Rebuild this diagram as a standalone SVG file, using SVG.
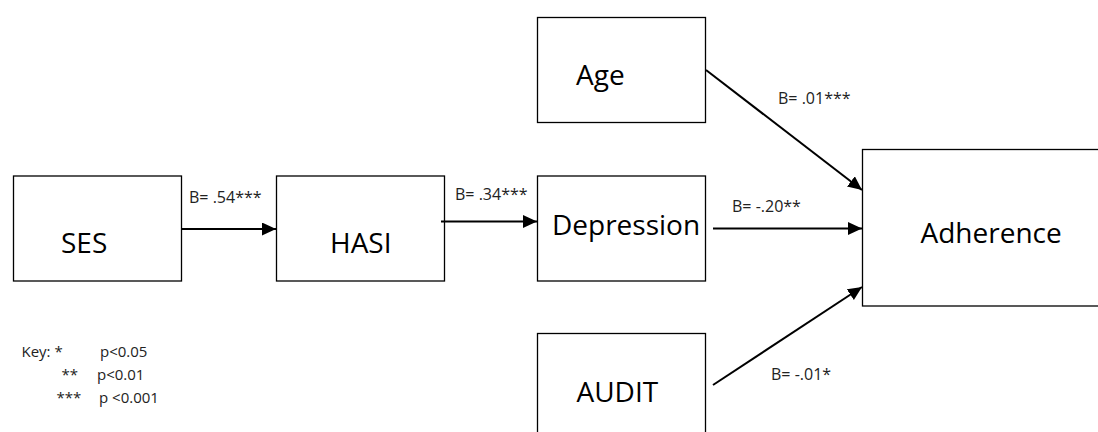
<svg xmlns="http://www.w3.org/2000/svg" width="1098" height="432" viewBox="0 0 1098 432">
  <style>
    .box { fill: #ffffff; stroke: #000000; stroke-width: 1.3; }
    .lbl { font-family: "Open Sans", "Liberation Sans", sans-serif; font-size: 28px; fill: #000000; }
    .coef { font-family: "Open Sans", "Liberation Sans", sans-serif; font-size: 16px; fill: #222222; }
    .key { font-family: "Open Sans", "Liberation Sans", sans-serif; font-size: 15px; fill: #222222; }
    .edge { stroke: #000000; stroke-width: 2; fill: none; marker-end: url(#arrow); }
  </style>
  <defs>
    <marker id="arrow" markerUnits="userSpaceOnUse" markerWidth="15" markerHeight="14" refX="14" refY="6.5" orient="auto">
      <path d="M0,0 L14,6.5 L0,13 Z" fill="#000000"/>
    </marker>
  </defs>
  <rect width="1098" height="432" fill="#ffffff"/>

  <g id="ses">
    <rect class="box" x="13.5" y="176" width="168" height="105"/>
    <text class="lbl" x="61" y="253">SES</text>
  </g>
  <g id="hasi">
    <rect class="box" x="276.5" y="176" width="168" height="105"/>
    <text class="lbl" x="330" y="253">HASI</text>
  </g>
  <g id="age">
    <rect class="box" x="537.5" y="17.5" width="168" height="105"/>
    <text class="lbl" x="576" y="85">Age</text>
  </g>
  <g id="depression">
    <rect class="box" x="537.5" y="176" width="168" height="105"/>
    <text class="lbl" x="552" y="235">Depression</text>
  </g>
  <g id="audit">
    <rect class="box" x="537.5" y="333.5" width="168" height="105"/>
    <text class="lbl" x="576.5" y="401.5">AUDIT</text>
  </g>
  <g id="adherence">
    <rect class="box" x="862.5" y="149.5" width="250" height="156.5"/>
    <text class="lbl" x="920.5" y="243">Adherence</text>
  </g>

  <g id="connectors">
    <line class="edge" x1="182" y1="229" x2="276" y2="229"/>
    <line class="edge" x1="441" y1="221.5" x2="537" y2="221.5"/>
    <line class="edge" x1="706" y1="70" x2="862" y2="190"/>
    <line class="edge" x1="713" y1="228.5" x2="862" y2="228.5"/>
    <line class="edge" x1="713" y1="385" x2="862" y2="287"/>
    <text class="coef" x="189" y="203">B= .54***</text>
    <text class="coef" x="455" y="200">B= .34***</text>
    <text class="coef" x="778" y="104">B= .01***</text>
    <text class="coef" x="732" y="212">B= -.20**</text>
    <text class="coef" x="771" y="380">B= -.01*</text>
  </g>

  <g id="key">
    <text class="key" x="21.5" y="357">Key: *</text>
    <text class="key" x="100" y="357">p&lt;0.05</text>
    <text class="key" x="61.5" y="380">**</text>
    <text class="key" x="97" y="380">p&lt;0.01</text>
    <text class="key" x="56.5" y="403">***</text>
    <text class="key" x="99" y="403">p &lt;0.001</text>
  </g>
</svg>
